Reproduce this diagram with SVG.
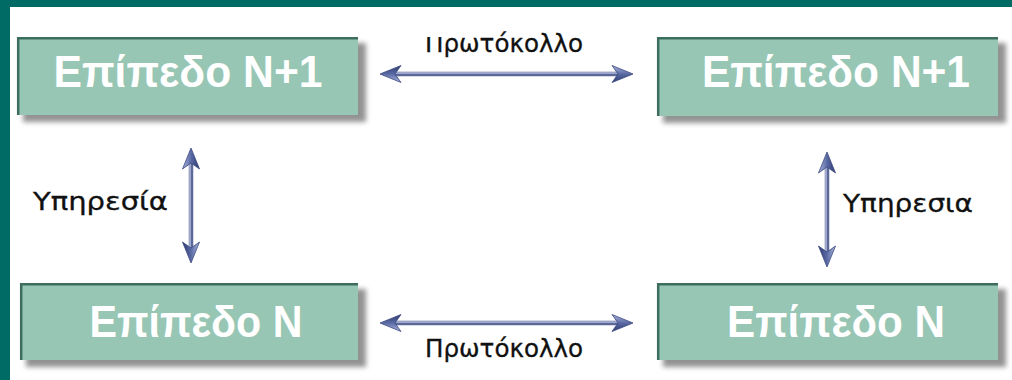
<svg xmlns="http://www.w3.org/2000/svg" width="1012" height="380" viewBox="0 0 1012 380">
<style>
.box{fill:#97c6b4;}
.edge{fill:none;stroke:#3d6d5f;stroke-width:2.5;}
.shadow{fill:#6e6e6e;opacity:0.75;}
.bt{font-family:"Liberation Sans",Arial,sans-serif;font-weight:bold;font-size:44px;fill:#ffffff;text-anchor:middle;}
.lbl{font-family:"DejaVu Sans","Liberation Sans",sans-serif;font-size:24px;fill:#111111;stroke:#111111;stroke-width:0.3;}
.shaft{stroke:#5c6898;stroke-width:4.5;fill:none;}
.shine{stroke:#b3bcdc;stroke-width:1.5;fill:none;}
.head{fill:url(#hg);stroke:#3c4a80;stroke-width:0.8;}
</style>
<defs>
<filter id="blur" x="-10%" y="-20%" width="120%" height="140%"><feGaussianBlur stdDeviation="2.5"/></filter>
<linearGradient id="hg" x1="0" y1="0" x2="0" y2="1">
<stop offset="0" stop-color="#a9b4dc"/>
<stop offset="0.5" stop-color="#5a6aa4"/>
<stop offset="1" stop-color="#2e3a70"/>
</linearGradient>
<path id="head" d="M0,0 L-21,-8.5 L-15,0 L-21,8.5 Z"/>
<clipPath id="clipTop"><path d="M0,37 H445 V0 H1012 V100 H0 Z"/></clipPath>
</defs>
<rect x="0" y="0" width="1012" height="380" fill="#006b64"/>
<rect x="10" y="7" width="1002" height="373" fill="#ffffff"/>

<g id="node-tl">
<rect class="shadow" x="23" y="43" width="343" height="79" filter="url(#blur)"/>
<rect class="box" x="17" y="37" width="341" height="78"/>
<path class="edge" d="M18.2,115 V38.2 H358"/>
<text class="bt" x="188" y="87" textLength="269" lengthAdjust="spacingAndGlyphs">Επίπεδο Ν+1</text>
</g>
<g id="node-tr">
<rect class="shadow" x="663" y="43" width="343" height="80" filter="url(#blur)"/>
<rect class="box" x="657" y="37" width="341" height="79"/>
<path class="edge" d="M658.2,116 V38.2 H998"/>
<text class="bt" x="836" y="87" textLength="268" lengthAdjust="spacingAndGlyphs">Επίπεδο Ν+1</text>
</g>
<g id="node-bl">
<rect class="shadow" x="26" y="289" width="340" height="78" filter="url(#blur)"/>
<rect class="box" x="20" y="283" width="338" height="77"/>
<path class="edge" d="M21.2,360 V284.2 H358"/>
<text class="bt" x="196" y="337" textLength="213" lengthAdjust="spacingAndGlyphs">Επίπεδο Ν</text>
</g>
<g id="node-br">
<rect class="shadow" x="663" y="289" width="343" height="78" filter="url(#blur)"/>
<rect class="box" x="657" y="283" width="341" height="77"/>
<path class="edge" d="M658.2,360 V284.2 H998"/>
<text class="bt" x="836" y="337" textLength="218" lengthAdjust="spacingAndGlyphs">Επίπεδο Ν</text>
</g>

<g id="connectors">
<g id="c-top">
<line class="shaft" x1="393" y1="74" x2="620" y2="74"/>
<line class="shine" x1="393" y1="73" x2="620" y2="73"/>
<use href="#head" class="head" transform="translate(380,74) rotate(180)"/>
<use href="#head" class="head" transform="translate(633,74)"/>
</g>
<g id="c-bottom">
<line class="shaft" x1="393" y1="323" x2="620" y2="323"/>
<line class="shine" x1="393" y1="322" x2="620" y2="322"/>
<use href="#head" class="head" transform="translate(380,323) rotate(180)"/>
<use href="#head" class="head" transform="translate(633,323)"/>
</g>
<g id="c-left">
<line class="shaft" x1="191" y1="161" x2="191" y2="250"/>
<line class="shine" x1="190" y1="161" x2="190" y2="250"/>
<use href="#head" class="head" transform="translate(191,148) rotate(-90)"/>
<use href="#head" class="head" transform="translate(191,263) rotate(90)"/>
</g>
<g id="c-right">
<line class="shaft" x1="827" y1="165" x2="827" y2="254"/>
<line class="shine" x1="826" y1="165" x2="826" y2="254"/>
<use href="#head" class="head" transform="translate(827,152) rotate(-90)"/>
<use href="#head" class="head" transform="translate(827,267) rotate(90)"/>
</g>
</g>

<g id="labels">
<text class="lbl" x="425" y="52" textLength="158" lengthAdjust="spacingAndGlyphs" clip-path="url(#clipTop)">Πρωτόκολλο</text>
<text class="lbl" x="425" y="357" textLength="158" lengthAdjust="spacingAndGlyphs">Πρωτόκολλο</text>
<text class="lbl" x="33" y="210" textLength="135" lengthAdjust="spacingAndGlyphs">Υπηρεσία</text>
<text class="lbl" x="843" y="212" textLength="130" lengthAdjust="spacingAndGlyphs">Υπηρεσια</text>
</g>
</svg>
